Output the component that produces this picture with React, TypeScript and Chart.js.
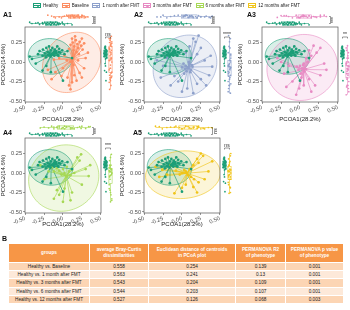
import React, { useEffect, useRef } from "react";
import { Chart, registerables } from "chart.js";
Chart.register(...registerables);

// ---------------- DATA ----------------
const GROUP_NAMES = ["Healthy", "Baseline", "1 month after FMT", "3 months after FMT", "6 months after FMT", "12 months after FMT"];
const GROUP_COLORS = ["#1b9e77", "#fc8d62", "#8da0cb", "#e78ac3", "#a6d854", "#f0c419"];

const healthyPC1 = [-0.41, -0.33, -0.31, -0.27, -0.265, -0.24, -0.225, -0.22, -0.205, -0.2, -0.185, -0.18, -0.165, -0.16, -0.145, -0.14, -0.12, -0.115, -0.11, -0.095, -0.09, -0.075, -0.07, -0.055, -0.05, -0.035, -0.01, 0.02, 0.06, -0.27, -0.16, -0.36, 0.0, -0.44, 0.12, -0.22, -0.13, -0.06];
const healthyPC2 = [0.04, 0.1, 0.14, 0.08, 0.16, 0.11, 0.06, 0.18, 0.13, 0.09, 0.2, 0.12, 0.07, 0.15, 0.1, 0.18, 0.13, 0.08, 0.16, 0.115, 0.14, 0.2, 0.09, 0.13, 0.17, 0.12, 0.15, 0.1, 0.14, -0.11, -0.13, -0.02, -0.24, 0.07, 0.05, -0.05, 0.11, 0.08];

const baselinePC1 = [0.1, 0.13, 0.15, 0.17, 0.19, 0.2, 0.22, 0.24, 0.26, 0.14, 0.18, 0.21, 0.25, 0.28, 0.12, 0.08, 0.16, 0.02, -0.05, 0.05, 0.1, 0.14, 0.2, 0.3, 0.28, -0.12, -0.2, -0.1, 0.0, 0.15, 0.22, 0.06, 0.08, 0.12, -0.02, 0.18, 0.1, 0.25, -0.15, 0.33];
const baselinePC2 = [0.22, 0.25, 0.2, 0.28, 0.23, 0.18, 0.26, 0.21, 0.16, 0.15, 0.13, 0.1, 0.3, 0.24, 0.3, 0.17, 0.33, 0.08, 0.05, 0.02, 0.0, -0.04, 0.02, 0.05, -0.08, 0.03, -0.1, -0.13, -0.08, -0.17, -0.14, -0.2, -0.3, -0.26, -0.18, -0.24, -0.35, -0.2, -0.22, 0.12];

const month1PC1 = [0.18, 0.22, 0.15, 0.1, 0.25, 0.05, 0.2, 0.02, 0.05, 0.08, 0.1, 0.12, 0.06, 0.0, 0.14, 0.03, 0.09, 0.11, -0.33, -0.25, -0.2, -0.15, 0.07, 0.36, 0.4, 0.3, -0.05, 0.2, 0.25, -0.1, 0.15, 0.32, -0.28, 0.0, 0.38, 0.04, 0.13];
const month1PC2 = [0.26, 0.34, 0.3, 0.2, 0.18, 0.12, 0.1, -0.02, -0.05, -0.08, -0.03, -0.1, -0.12, -0.07, -0.06, -0.15, 0.0, -0.13, 0.02, -0.05, 0.05, -0.3, -0.34, -0.17, -0.06, 0.02, -0.25, -0.28, -0.22, -0.18, -0.4, -0.3, -0.2, -0.38, 0.08, -0.09, -0.04];

const month3PC1 = [0.18, 0.12, 0.22, 0.08, 0.15, 0.27, 0.0, 0.03, 0.05, -0.02, 0.06, 0.01, 0.04, -0.04, 0.08, -0.21, -0.01, 0.05, 0.27, 0.32, -0.1, -0.15, -0.25, -0.3, 0.12, 0.2, -0.05, 0.15, 0.35, -0.18, 0.1, 0.02];
const month3PC2 = [0.21, 0.15, 0.12, 0.05, 0.08, 0.18, -0.05, -0.08, -0.02, -0.1, -0.12, -0.15, -0.04, -0.06, -0.09, -0.15, -0.34, -0.3, -0.17, -0.02, -0.25, -0.05, 0.0, 0.05, -0.22, -0.3, -0.42, -0.38, -0.1, -0.32, 0.0, -0.2];

const month6PC1 = [0.19, 0.22, 0.24, 0.05, 0.0, -0.05, 0.02, -0.08, 0.08, 0.12, -0.12, -0.19, -0.15, 0.15, 0.1, 0.05, -0.02, -0.08, -0.05, 0.02, 0.1, 0.12, 0.34, 0.3, -0.25, -0.3, 0.25, -0.12, 0.0, 0.36];
const month6PC2 = [0.2, 0.16, 0.24, 0.08, 0.05, 0.03, 0.0, 0.06, 0.02, 0.04, 0.02, 0.02, 0.07, 0.0, -0.03, -0.05, -0.02, -0.22, -0.28, -0.2, -0.35, -0.25, -0.04, 0.05, -0.08, 0.1, -0.15, -0.33, -0.37, 0.1];

const month12PC1 = [0.22, 0.2, 0.28, 0.15, 0.1, 0.05, 0.0, -0.03, 0.08, 0.12, 0.16, 0.03, -0.08, -0.26, -0.2, -0.3, 0.0, -0.1, 0.15, 0.22, 0.3, 0.35, 0.05, 0.2, -0.15, 0.4, -0.35, 0.25];
const month12PC2 = [0.13, 0.18, 0.22, 0.1, 0.05, 0.02, 0.0, -0.02, -0.03, -0.05, -0.08, 0.04, 0.03, 0.04, -0.02, -0.05, -0.19, -0.26, -0.18, -0.12, -0.08, 0.02, -0.15, -0.25, 0.1, 0.15, 0.08, 0.25];

// 95% ellipses (centre, semi-axes, tilt in degrees)
const ELLIPSE_CX = [-0.165, 0.115, 0.04, 0.03, 0.01, 0.013];
const ELLIPSE_CY = [0.072, -0.005, -0.055, -0.07, -0.065, -0.022];
const ELLIPSE_A = [0.295, 0.42, 0.44, 0.47, 0.47, 0.495];
const ELLIPSE_B = [0.228, 0.35, 0.38, 0.42, 0.42, 0.305];
const ELLIPSE_ANGLE = [-4, 45, 35, 15, 20, 4];

const PANEL_LABELS = ["A1", "A2", "A3", "A4", "A5"];
const PANEL_GROUP = [1, 2, 3, 4, 5];
const TOP_SIG = ["****", "****", "***", "***", "ns"];
const RIGHT_SIG = ["ns", "****", "**", "***", "ns"];

const X_TICKS = [-0.5, -0.25, 0, 0.25, 0.5];
const Y_TICKS = [-0.5, -0.25, 0, 0.25];
const X_TITLE = "PCOA1(28.2%)";
const Y_TITLE = "PCOA2(14.6%)";

const TABLE_HEAD = ["groups", "average Bray-Curtis\ndissimilarities", "Euclidean distance of centroids\nin PCoA plot", "PERMANOVA R2\nof phenotype", "PERMANOVA p value\nof phenotype"];
const TABLE_GROUPS = ["Healthy vs. Baseline", "Healthy vs. 1 month after FMT", "Healthy vs. 3 months after FMT", "Healthy vs. 6 months after FMT", "Healthy vs. 12 months after FMT"];
const BRAY_CURTIS = ["0.558", "0.563", "0.543", "0.544", "0.527"];
const CENTROID_DIST = ["0.254", "0.241", "0.204", "0.203", "0.126"];
const PERMANOVA_R2 = ["0.139", "0.13", "0.109", "0.107", "0.068"];
const PERMANOVA_P = ["0.001", "0.001", "0.001", "0.001", "0.003"];

const GROUP_PC1 = [healthyPC1, baselinePC1, month1PC1, month3PC1, month6PC1, month12PC1];
const GROUP_PC2 = [healthyPC2, baselinePC2, month1PC2, month3PC2, month6PC2, month12PC2];

// ---------------- LAYOUT ----------------
const FONT = '"Liberation Sans", Arial, Helvetica, sans-serif';
const Y_AXIS_W = 25;
const PAD_TOP = 27;
const BOX_W = 76;
const BOX_H = 75;
const PAD_RIGHT = 17;
const PANEL_LAYOUT = [
  { boxL: 25, boxT: 27, xh: 21, labelX: 3, labelY: 11 },
  { boxL: 144, boxT: 27, xh: 21, labelX: 134, labelY: 11 },
  { boxL: 262, boxT: 27, xh: 21, labelX: 247, labelY: 11 },
  { boxL: 25, boxT: 138, xh: 15, labelX: 3, labelY: 129 },
  { boxL: 144, boxT: 138, xh: 15, labelX: 133, labelY: 129 },
];

function rgba(hex: string, a: number) {
  const n = parseInt(hex.slice(1), 16);
  return `rgba(${(n >> 16) & 255},${(n >> 8) & 255},${n & 255},${a})`;
}

function points(g: number) {
  const xs = GROUP_PC1[g], ys = GROUP_PC2[g];
  const n = Math.min(xs.length, ys.length);
  const out: { x: number; y: number }[] = [];
  for (let i = 0; i < n; i++) out.push({ x: xs[i], y: ys[i] });
  return out;
}

function spider(g: number) {
  const pts = points(g);
  const cx = pts.reduce((s, p) => s + p.x, 0) / pts.length;
  const cy = pts.reduce((s, p) => s + p.y, 0) / pts.length;
  const out: { x: number; y: number }[] = [];
  pts.forEach((p) => {
    out.push({ x: cx, y: cy }, { x: p.x, y: p.y }, { x: NaN, y: NaN });
  });
  return out;
}

function quantile(s: number[], q: number) {
  const pos = (s.length - 1) * q;
  const lo = Math.floor(pos), hi = Math.ceil(pos);
  return s[lo] + (s[hi] - s[lo]) * (pos - lo);
}
function boxStats(vals: number[]) {
  const s = [...vals].sort((a, b) => a - b);
  const q1 = quantile(s, 0.25), med = quantile(s, 0.5), q3 = quantile(s, 0.75);
  const iqr = q3 - q1;
  const lo = s.find((v) => v >= q1 - 1.5 * iqr) as number;
  const hi = [...s].reverse().find((v) => v <= q3 + 1.5 * iqr) as number;
  return { q1, med, q3, lo, hi };
}
const JITTER = [0, -0.9, 0.9, -0.45, 0.45, -1.3, 1.3];

function makePlugin(pi: number) {
  const g = PANEL_GROUP[pi];
  return {
    id: "pcoaExtras" + pi,
    beforeDatasetsDraw(chart: any) {
      const { ctx, chartArea: ca } = chart;
      const xs = chart.scales.x, ys = chart.scales.y;
      ctx.save();
      ctx.beginPath();
      ctx.rect(ca.left, ca.top, ca.right - ca.left, ca.bottom - ca.top);
      ctx.clip();
      const path = (k: number) => {
        const t = (ELLIPSE_ANGLE[k] * Math.PI) / 180;
        ctx.beginPath();
        for (let i = 0; i <= 90; i++) {
          const th = (i / 90) * Math.PI * 2;
          const ex = ELLIPSE_A[k] * Math.cos(th), ey = ELLIPSE_B[k] * Math.sin(th);
          const dx = ELLIPSE_CX[k] + ex * Math.cos(t) - ey * Math.sin(t);
          const dy = ELLIPSE_CY[k] + ex * Math.sin(t) + ey * Math.cos(t);
          const px = xs.getPixelForValue(dx), py = ys.getPixelForValue(dy);
          if (i === 0) ctx.moveTo(px, py);
          else ctx.lineTo(px, py);
        }
        ctx.closePath();
      };
      [g, 0].forEach((k) => {
        path(k);
        ctx.fillStyle = rgba(GROUP_COLORS[k], 0.17);
        ctx.fill();
      });
      [g, 0].forEach((k) => {
        path(k);
        ctx.strokeStyle = GROUP_COLORS[k];
        ctx.lineWidth = 0.6;
        ctx.stroke();
      });
      ctx.restore();
    },
    afterDraw(chart: any) {
      const { ctx, chartArea: ca } = chart;
      const xs = chart.scales.x, ys = chart.scales.y;
      ctx.save();
      // panel frame
      ctx.strokeStyle = "#555";
      ctx.lineWidth = 0.7;
      ctx.strokeRect(ca.left, ca.top, ca.right - ca.left, ca.bottom - ca.top);

      // ---- top marginal boxplots (PC1) ----
      const rows = [
        { k: 0, y: ca.top - 3.5 },
        { k: g, y: ca.top - 10.5 },
      ];
      rows.forEach(({ k, y }) => {
        const st = boxStats(GROUP_PC1[k]);
        const c = GROUP_COLORS[k];
        ctx.strokeStyle = c;
        ctx.lineWidth = 0.6;
        ctx.beginPath();
        ctx.moveTo(xs.getPixelForValue(st.lo), y);
        ctx.lineTo(xs.getPixelForValue(st.q1), y);
        ctx.moveTo(xs.getPixelForValue(st.q3), y);
        ctx.lineTo(xs.getPixelForValue(st.hi), y);
        ctx.stroke();
        const bx = xs.getPixelForValue(st.q1), bw = xs.getPixelForValue(st.q3) - bx;
        ctx.fillStyle = "#fff";
        ctx.fillRect(bx, y - 1.6, bw, 3.2);
        ctx.strokeRect(bx, y - 1.6, bw, 3.2);
        ctx.beginPath();
        ctx.moveTo(xs.getPixelForValue(st.med), y - 1.6);
        ctx.lineTo(xs.getPixelForValue(st.med), y + 1.6);
        ctx.stroke();
        ctx.fillStyle = c;
        GROUP_PC1[k].forEach((v, i) => {
          ctx.beginPath();
          ctx.arc(xs.getPixelForValue(v), y + JITTER[i % JITTER.length], 0.85, 0, Math.PI * 2);
          ctx.fill();
        });
      });
      // bracket + label
      const bxp = ca.right - 7.5;
      ctx.strokeStyle = "#333";
      ctx.lineWidth = 0.5;
      ctx.beginPath();
      ctx.moveTo(bxp - 1.5, rows[1].y);
      ctx.lineTo(bxp, rows[1].y);
      ctx.lineTo(bxp, rows[0].y);
      ctx.lineTo(bxp - 1.5, rows[0].y);
      ctx.stroke();
      ctx.fillStyle = "#222";
      ctx.font = `5px ${FONT}`;
      ctx.textAlign = "center";
      ctx.textBaseline = "middle";
      ctx.save();
      ctx.translate(bxp + 3, (rows[0].y + rows[1].y) / 2);
      ctx.rotate(-Math.PI / 2);
      ctx.fillText(TOP_SIG[pi], 0, 0.3);
      ctx.restore();

      // ---- right marginal boxplots (PC2) ----
      const cols = [
        { k: 0, x: ca.right + 4.5 },
        { k: g, x: ca.right + 9.5 },
      ];
      cols.forEach(({ k, x }) => {
        const st = boxStats(GROUP_PC2[k]);
        const c = GROUP_COLORS[k];
        ctx.strokeStyle = c;
        ctx.lineWidth = 0.6;
        ctx.beginPath();
        ctx.moveTo(x, ys.getPixelForValue(st.lo));
        ctx.lineTo(x, ys.getPixelForValue(st.q1));
        ctx.moveTo(x, ys.getPixelForValue(st.q3));
        ctx.lineTo(x, ys.getPixelForValue(st.hi));
        ctx.stroke();
        const by = ys.getPixelForValue(st.q3), bh = ys.getPixelForValue(st.q1) - by;
        ctx.fillStyle = "#fff";
        ctx.fillRect(x - 1.6, by, 3.2, bh);
        ctx.strokeRect(x - 1.6, by, 3.2, bh);
        ctx.beginPath();
        ctx.moveTo(x - 1.6, ys.getPixelForValue(st.med));
        ctx.lineTo(x + 1.6, ys.getPixelForValue(st.med));
        ctx.stroke();
        ctx.fillStyle = c;
        GROUP_PC2[k].forEach((v, i) => {
          ctx.beginPath();
          ctx.arc(x + JITTER[i % JITTER.length], ys.getPixelForValue(v), 0.85, 0, Math.PI * 2);
          ctx.fill();
        });
      });
      const byp = ca.top + 10;
      ctx.strokeStyle = "#333";
      ctx.lineWidth = 0.5;
      ctx.beginPath();
      ctx.moveTo(cols[0].x, byp + 1.5);
      ctx.lineTo(cols[0].x, byp);
      ctx.lineTo(cols[1].x, byp);
      ctx.lineTo(cols[1].x, byp + 1.5);
      ctx.stroke();
      ctx.fillStyle = "#222";
      ctx.textAlign = "center";
      ctx.textBaseline = "alphabetic";
      ctx.fillText(RIGHT_SIG[pi], (cols[0].x + cols[1].x) / 2, byp - 0.8);
      ctx.restore();
    },
  };
}

function Panel({ pi }: { pi: number }) {
  const ref = useRef<HTMLCanvasElement | null>(null);
  const lay = PANEL_LAYOUT[pi];
  const W = Y_AXIS_W + BOX_W + PAD_RIGHT;
  const H = PAD_TOP + BOX_H + lay.xh;
  useEffect(() => {
    if (!ref.current) return;
    const g = PANEL_GROUP[pi];
    const chart = new Chart(ref.current, {
      type: "scatter",
      data: {
        datasets: [
          { label: GROUP_NAMES[0], data: points(0), backgroundColor: GROUP_COLORS[0], borderWidth: 0, pointRadius: 1.35 },
          { label: GROUP_NAMES[g], data: points(g), backgroundColor: GROUP_COLORS[g], borderWidth: 0, pointRadius: 1.35 },
          { label: "s0", data: spider(0), showLine: true, spanGaps: false, borderColor: GROUP_COLORS[0], borderWidth: 0.65, pointRadius: 0 },
          { label: "sg", data: spider(g), showLine: true, spanGaps: false, borderColor: GROUP_COLORS[g], borderWidth: 0.65, pointRadius: 0 },
        ] as any,
      },
      options: {
        animation: false,
        responsive: false,
        events: [],
        layout: { padding: { left: 0, top: PAD_TOP, right: PAD_RIGHT, bottom: 0 } },
        plugins: { legend: { display: false }, tooltip: { enabled: false } },
        scales: {
          x: {
            type: "linear",
            min: -0.502,
            max: 0.503,
            afterBuildTicks: (s: any) => {
              s.ticks = X_TICKS.map((v) => ({ value: v }));
            },
            afterFit: (s: any) => {
              s.height = lay.xh;
            },
            ticks: {
              autoSkip: false,
              minRotation: 22,
              maxRotation: 22,
              padding: 0,
              font: { size: 5.6, family: FONT },
              color: "#4d4d4d",
              callback: (v: any) => Number(v).toFixed(2),
            },
            grid: { drawOnChartArea: false, tickLength: 2, color: "#555", lineWidth: 0.6 },
            border: { display: false },
            title: { display: true, text: X_TITLE, font: { size: 6, family: FONT }, color: "#1a1a1a", padding: 0 },
          },
          y: {
            type: "linear",
            min: -0.513,
            max: 0.449,
            afterBuildTicks: (s: any) => {
              s.ticks = Y_TICKS.map((v) => ({ value: v }));
            },
            afterFit: (s: any) => {
              s.width = Y_AXIS_W;
            },
            ticks: {
              autoSkip: false,
              padding: 1,
              font: { size: 5.6, family: FONT },
              color: "#4d4d4d",
              callback: (v: any) => Number(v).toFixed(2),
            },
            grid: { drawOnChartArea: false, tickLength: 2, color: "#555", lineWidth: 0.6 },
            border: { display: false },
            title: { display: true, text: Y_TITLE, font: { size: 6, family: FONT }, color: "#1a1a1a", padding: 0 },
          },
        },
      } as any,
      plugins: [makePlugin(pi)],
    });
    return () => chart.destroy();
  }, [pi]);
  return (
    <canvas
      ref={ref}
      width={W}
      height={H}
      style={{ position: "absolute", left: lay.boxL - Y_AXIS_W, top: lay.boxT - PAD_TOP, width: W, height: H }}
    />
  );
}

function Legend() {
  return (
    <div
      style={{
        position: "absolute",
        left: 33,
        top: 2,
        width: 267,
        height: 6,
        display: "flex",
        justifyContent: "space-between",
        alignItems: "center",
      }}
    >
      {GROUP_NAMES.map((n, i) => (
        <div key={n} style={{ display: "flex", alignItems: "center", gap: 2 }}>
          <div style={{ position: "relative", width: 8, height: 5, border: `0.7px solid ${GROUP_COLORS[i]}`, boxSizing: "border-box" }}>
            <div style={{ position: "absolute", left: 0, right: 0, top: 1.8, height: 0.7, background: GROUP_COLORS[i] }} />
            <div style={{ position: "absolute", left: 2.6, top: 1, width: 2.4, height: 2.4, borderRadius: "50%", background: GROUP_COLORS[i] }} />
          </div>
          <span style={{ fontSize: 4.5, lineHeight: "5px", color: "#222", whiteSpace: "nowrap", fontFamily: FONT }}>{n}</span>
        </div>
      ))}
    </div>
  );
}

function Table() {
  const colW = [81, 59, 87, 50, 58];
  const rows = TABLE_GROUPS.map((gname, i) => [gname, BRAY_CURTIS[i], CENTROID_DIST[i], PERMANOVA_R2[i], PERMANOVA_P[i]]);
  const cell: React.CSSProperties = { padding: 0, textAlign: "center", border: "0.6px solid #fff", fontFamily: FONT };
  return (
    <table
      style={{ position: "absolute", left: 8, top: 243, width: 335, borderCollapse: "collapse", tableLayout: "fixed" }}
    >
      <colgroup>
        {colW.map((w, i) => (
          <col key={i} style={{ width: w }} />
        ))}
      </colgroup>
      <thead>
        <tr style={{ height: 19, background: "#f79646" }}>
          {TABLE_HEAD.map((h, i) => (
            <th key={i} style={{ ...cell, color: "#fff", fontWeight: "bold", fontSize: 4.7, lineHeight: "6.5px", whiteSpace: "pre" }}>
              {h}
            </th>
          ))}
        </tr>
      </thead>
      <tbody>
        {rows.map((r, i) => (
          <tr key={i} style={{ height: 8.2, background: i % 2 === 0 ? "#fcd5b4" : "#fde9d9" }}>
            {r.map((c, j) => (
              <td key={j} style={{ ...cell, color: "#222", fontSize: 4.7, lineHeight: "7px", whiteSpace: "nowrap" }}>
                {c}
              </td>
            ))}
          </tr>
        ))}
      </tbody>
    </table>
  );
}

export default function App() {
  useEffect(() => {
    document.body.style.margin = "0";
  }, []);
  return (
    <div
      style={{ position: "absolute", left: 0, top: 0, width: 350, height: 310, overflow: "hidden", background: "#fff", fontFamily: FONT }}
    >
      {PANEL_LAYOUT.map((_, i) => (
        <Panel key={i} pi={i} />
      ))}
      {PANEL_LAYOUT.map((l, i) => (
        <div
          key={"lab" + i}
          style={{ position: "absolute", left: l.labelX, top: l.labelY, fontSize: 7, fontWeight: "bold", lineHeight: "8px", color: "#111" }}
        >
          {PANEL_LABELS[i]}
        </div>
      ))}
      <Legend />
      <div style={{ position: "absolute", left: 2, top: 235, fontSize: 7, fontWeight: "bold", lineHeight: "8px", color: "#111" }}>B</div>
      <Table />
    </div>
  );
}
